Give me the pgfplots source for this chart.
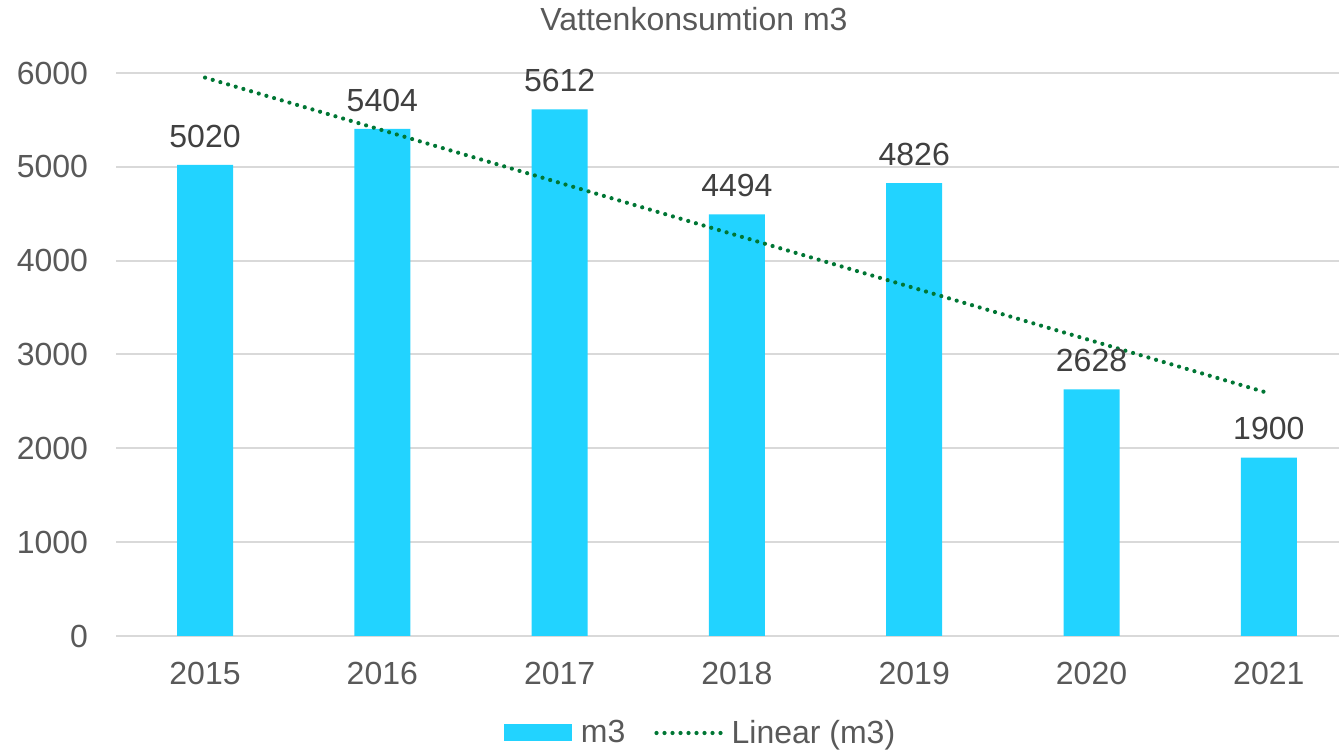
\documentclass[border=0pt]{standalone}
\usepackage{fontspec}
\setmainfont{Liberation Sans}
\usepackage{pgfplots}
\pgfplotsset{compat=1.18}
\definecolor{barc}{RGB}{34,211,255}
\definecolor{trendc}{RGB}{0,118,52}
\definecolor{gridc}{RGB}{217,217,217}
\definecolor{tickc}{RGB}{89,89,89}
\definecolor{labc}{RGB}{64,64,64}
\tikzset{trendstyle/.style={trendc, line width=2.1pt, line cap=round, dash pattern=on 0pt off 4pt}}
\begin{document}
\begin{tikzpicture}[x=1pt,y=1pt]
\useasboundingbox (0,0) rectangle (669.5,376.5);
\begin{axis}[
  at={(58.2pt,58.5pt)}, anchor=south west,
  scale only axis, width=611.3pt, height=281.5pt,
  xmin=-0.5, xmax=6.396, ymin=0, ymax=6000,
  xtick={0,1,2,3,4,5,6},
  xticklabels={2015,2016,2017,2018,2019,2020,2021},
  ytick={0,1000,2000,3000,4000,5000,6000},
  axis line style={draw=none},
  tick style={draw=none},
  ymajorgrids, major grid style={line width=1pt, color=gridc},
  ticklabel style={font=\fontsize{16}{19}\selectfont, text=tickc},
  yticklabel style={anchor=east, inner sep=0pt, xshift=-14pt},
  xticklabel style={anchor=north, inner sep=0pt, yshift=-13pt},
  /pgf/number format/assume math mode=true,
  /pgf/number format/1000 sep={},
  title={Vattenkonsumtion m3},
  every axis title shift=0pt,
  title style={at={(0.4724,1)}, anchor=base, yshift=21pt, inner sep=0pt,
    font=\fontsize{16}{19}\selectfont, text=tickc},
  legend columns=2,
  legend style={draw=none, fill=none, at={(0.4770,-0.1723)}, anchor=center,
    font=\fontsize{16}{19}\selectfont, text=tickc, nodes={inner sep=0pt},
    /tikz/every odd column/.append style={column sep=4.5pt},
    /tikz/every even column/.append style={column sep=14.5pt}},
]
\addplot[ybar, bar width=28pt, fill=barc, draw=none,
  nodes near coords,
  every node near coord/.append style={anchor=south, inner sep=0pt, yshift=8.5pt,
    font=\fontsize{16}{19}\selectfont, text=labc},
  legend image code/.code={\fill[barc] (0pt,-4.25pt) rectangle (34pt,4.25pt);}]
  coordinates {(0,5020) (1,5404) (2,5612) (3,4494) (4,4826) (5,2628) (6,1900)};
\addlegendentry{m3}
\addplot[trendstyle,
  legend image code/.code={\draw[trendstyle] (0pt,0pt) -- (32pt,0pt);}]
  coordinates {(0,5951) (6,2587)};
\addlegendentry{Linear (m3)}
\end{axis}
\end{tikzpicture}
\end{document}
